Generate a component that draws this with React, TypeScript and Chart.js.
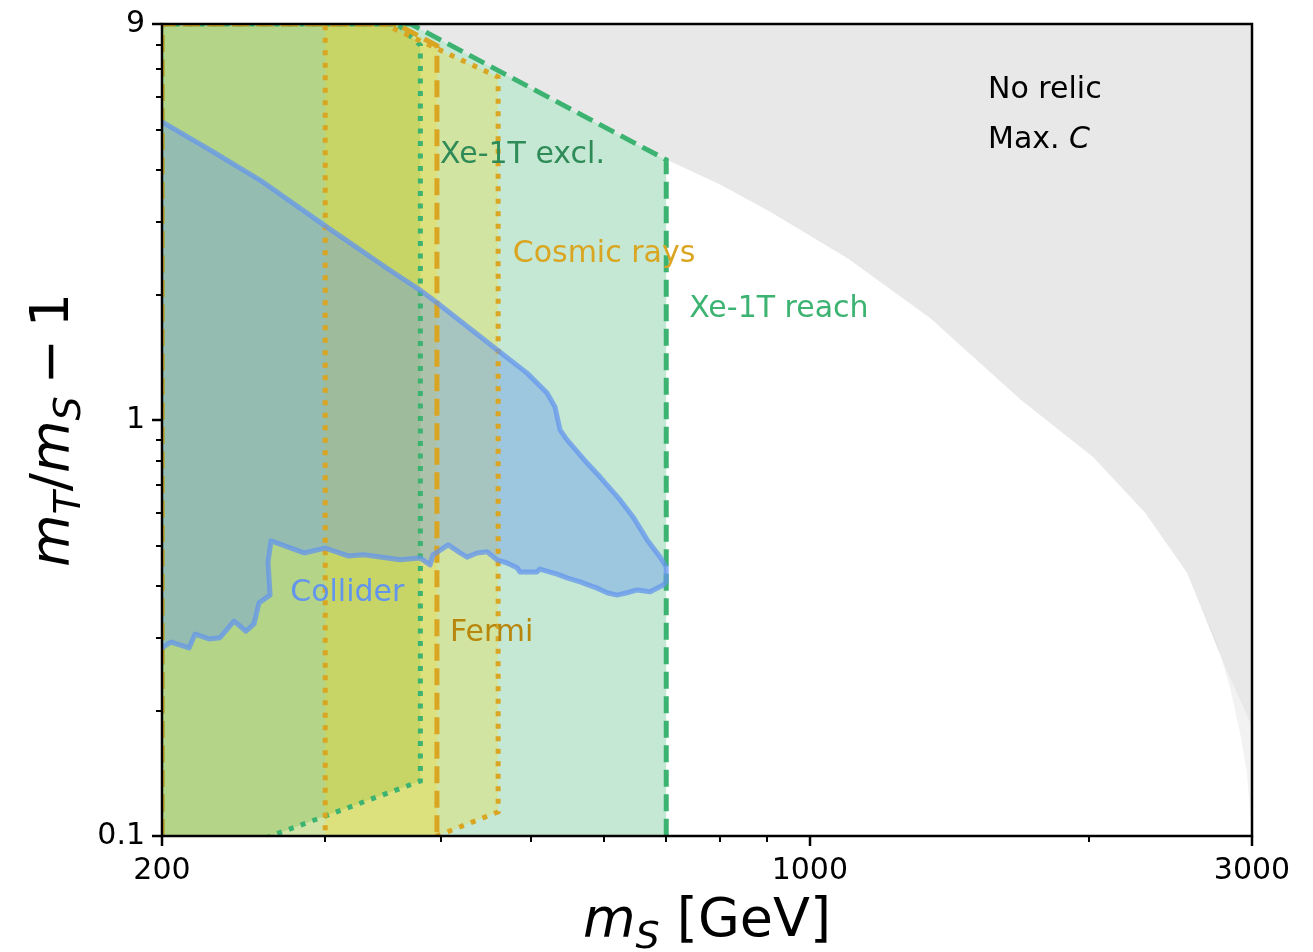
import React, { useEffect, useRef } from 'react';
import { Chart, registerables } from 'chart.js';

Chart.register(...registerables);

const FONT = '"DejaVu Sans", "Noto Sans", sans-serif';

// ---------- axes ----------
const xRange = [200, 3000];
const yRange = [0.1, 9];
const xTickValues = [200, 300, 400, 500, 600, 700, 800, 900, 1000, 2000, 3000];
const xTickLabels = [200, 1000, 3000];
const yTickValues = [0.1, 0.2, 0.3, 0.4, 0.5, 0.6, 0.7, 0.8, 0.9, 1, 2, 3, 4, 5, 6, 7, 8, 9];
const yTickLabels = [0.1, 1, 9];

// ---------- regions (m_S [GeV], m_T/m_S - 1) ----------
const noRelicX = [371, 700, 800, 906, 1100, 1348, 1690, 2021, 2300, 2553, 2806, 3000, 3000];
const noRelicY = [9, 4.25, 3.7, 3.18, 2.45, 1.765, 1.12, 0.817, 0.6, 0.43, 0.255, 0.183, 9];

const noRelicAltX = [2636, 2806, 3000, 3000, 2985, 2963, 2912, 2840, 2750];
const noRelicAltY = [0.365, 0.255, 0.183, 0.105, 0.1136, 0.142, 0.177, 0.228, 0.291];

const reachX = [200, 200, 371, 700, 700];
const reachY = [0.1, 9, 9, 4.24, 0.1];

const exclX = [200, 359, 380, 380, 200];
const exclY = [9, 9, 8.0, 0.1356, 0.0801];

const fermiX = [200, 200, 358, 396, 396];
const fermiY = [0.1, 9, 9, 7.98, 0.1];

const cosmicX = [300, 300, 347, 399, 461, 461, 300];
const cosmicY = [0.0783, 9, 9, 7.79, 6.71, 0.1143, 0.0783];

const colliderUpperX = [200, 225.3, 255.1, 300, 352.4, 379.7, 396.1, 459.7, 495.4, 520.6, 531, 537.7, 547.1, 575, 593.9, 624.1, 644.6, 667.6, 689.5, 700, 700];
const colliderUpperY = [5.23, 4.48, 3.79, 2.94, 2.30, 2.06, 1.92, 1.48, 1.30, 1.165, 1.078, 0.949, 0.898, 0.79, 0.731, 0.644, 0.586, 0.516, 0.469, 0.444, 0.409];
const colliderLowerX = [695, 672.6, 651.1, 635.1, 619.5, 604.4, 589.6, 565.1, 547.1, 533.7, 511.4, 507.6, 486.8, 483.2, 471.4, 459.7, 448.5, 437.6, 426.8, 419.5, 407.2, 392.2, 389.3, 379.7, 361.3, 330.3, 317.5, 300, 284.6, 262.2, 260.3, 261.6, 254.5, 251.4, 246.4, 239.2, 231, 224.8, 217.1, 213.9, 204.5, 200];
const colliderLowerY = [0.402, 0.387, 0.391, 0.385, 0.380, 0.385, 0.395, 0.409, 0.418, 0.427, 0.439, 0.432, 0.432, 0.442, 0.454, 0.462, 0.483, 0.480, 0.469, 0.480, 0.502, 0.475, 0.449, 0.467, 0.462, 0.475, 0.472, 0.493, 0.480, 0.513, 0.457, 0.380, 0.364, 0.324, 0.311, 0.329, 0.300, 0.298, 0.306, 0.2835, 0.293, 0.2835];

// ---------- annotations ----------
const annotationTexts = ['No relic', 'Xe-1T excl.', 'Cosmic rays', 'Xe-1T reach', 'Collider', 'Fermi'];
const annotationX = [1557, 399, 478, 741, 275, 409];
const annotationY = [6.25, 4.36, 2.52, 1.85, 0.384, 0.307];
const annotationColors = ['#000000', '#2e8b57', '#daa520', '#3cb371', '#6495ed', '#b8860b'];
const maxCPos = [1557, 4.74];

const pts = (xs: number[], ys: number[]) => xs.map((x, i) => ({ x, y: ys[i] }));

type Part = { t: string; font: string; dy?: number; gap?: number };

function measureParts(ctx: CanvasRenderingContext2D, parts: Part[]) {
  let w = 0;
  for (const p of parts) {
    ctx.font = p.font;
    w += (p.gap || 0) + ctx.measureText(p.t).width;
  }
  return w;
}
function drawParts(ctx: CanvasRenderingContext2D, parts: Part[], x: number, y: number) {
  let cx = x;
  for (const p of parts) {
    ctx.font = p.font;
    cx += p.gap || 0;
    ctx.fillText(p.t, cx, y + (p.dy || 0));
    cx += ctx.measureText(p.t).width;
  }
}

const overlayPlugin = {
  id: 'overlay',
  afterDatasetsDraw(chart: any) {
    const { ctx, chartArea: a } = chart;
    const xs = chart.scales.x;
    const ys = chart.scales.y;
    ctx.save();
    // annotations
    ctx.textBaseline = 'middle';
    ctx.textAlign = 'left';
    annotationTexts.forEach((t, i) => {
      ctx.fillStyle = annotationColors[i];
      ctx.font = `30px ${FONT}`;
      ctx.fillText(t, xs.getPixelForValue(annotationX[i]), ys.getPixelForValue(annotationY[i]));
    });
    ctx.fillStyle = '#000';
    drawParts(ctx, [
      { t: 'Max. ', font: `30px ${FONT}` },
      { t: 'C', font: `italic 30px ${FONT}` },
    ], xs.getPixelForValue(maxCPos[0]), ys.getPixelForValue(maxCPos[1]));

    // spines
    ctx.strokeStyle = '#000';
    ctx.lineWidth = 2.5;
    ctx.strokeRect(a.left, a.top, a.right - a.left, a.bottom - a.top);

    // tick marks
    for (const v of xTickValues) {
      const px = Math.round(xs.getPixelForValue(v));
      const major = xTickLabels.includes(v);
      ctx.lineWidth = major ? 2.5 : 2;
      ctx.beginPath();
      ctx.moveTo(px, a.bottom);
      ctx.lineTo(px, a.bottom + (major ? 10 : 6));
      ctx.stroke();
    }
    for (const v of yTickValues) {
      const py = Math.round(ys.getPixelForValue(v));
      const major = yTickLabels.includes(v);
      ctx.lineWidth = major ? 2.5 : 2;
      ctx.beginPath();
      ctx.moveTo(a.left, py);
      ctx.lineTo(a.left - (major ? 10 : 6), py);
      ctx.stroke();
    }

    // axis titles
    ctx.fillStyle = '#000';
    ctx.textBaseline = 'alphabetic';
    const S = 54;
    const xParts: Part[] = [
      { t: 'm', font: `italic ${S}px ${FONT}` },
      { t: 'S', font: `italic ${Math.round(S * 0.7)}px ${FONT}`, dy: 0.22 * S },
      { t: ' [GeV]', font: `${S}px ${FONT}` },
    ];
    const xw = measureParts(ctx, xParts);
    drawParts(ctx, xParts, (a.left + a.right) / 2 - xw / 2, 936);

    const yParts: Part[] = [
      { t: 'm', font: `italic ${S}px ${FONT}` },
      { t: 'T', font: `italic ${Math.round(S * 0.7)}px ${FONT}`, dy: 0.22 * S },
      { t: '/', font: `${S}px ${FONT}` },
      { t: 'm', font: `italic ${S}px ${FONT}` },
      { t: 'S', font: `italic ${Math.round(S * 0.7)}px ${FONT}`, dy: 0.22 * S },
      { t: '\u2212', font: `${S}px ${FONT}`, gap: 0.22 * S },
      { t: '1', font: `${S}px ${FONT}`, gap: 0.22 * S },
    ];
    const yw = measureParts(ctx, yParts);
    ctx.translate(68, (a.top + a.bottom) / 2);
    ctx.rotate(-Math.PI / 2);
    drawParts(ctx, yParts, -yw / 2, 0);
    ctx.restore();
  },
};

export default function App() {
  const ref = useRef<HTMLCanvasElement>(null);
  useEffect(() => {
    const canvas = ref.current;
    if (!canvas) return;
    Chart.defaults.font.family = FONT;
    Chart.defaults.color = '#000';
    const none = 'rgba(0,0,0,0)';
    const chart = new Chart(canvas, {
      type: 'line',
      data: {
        datasets: [
          {
            label: 'Collider',
            data: pts([...colliderUpperX, ...colliderLowerX], [...colliderUpperY, ...colliderLowerY]),
            fill: 'shape',
            backgroundColor: 'rgba(100,149,237,0.4)',
            borderColor: 'rgba(100,149,237,0.75)',
            borderWidth: 5,
            borderJoinStyle: 'round',
            order: 1,
          },
          {
            label: 'Cosmic rays',
            data: pts(cosmicX, cosmicY),
            fill: 'shape',
            backgroundColor: 'rgba(255,215,0,0.24)',
            borderColor: '#daa520',
            borderWidth: 5,
            borderDash: [5, 7.5],
            order: 2,
          },
          {
            label: 'Fermi',
            data: pts(fermiX, fermiY),
            fill: 'shape',
            backgroundColor: 'rgba(255,215,0,0.22)',
            borderColor: '#daa520',
            borderWidth: 5,
            borderDash: [17, 7.5],
            order: 3,
          },
          {
            label: 'Xe-1T excl.',
            data: pts(exclX, exclY),
            fill: 'shape',
            backgroundColor: 'rgba(0,128,0,0.18)',
            borderColor: '#3cb371',
            borderWidth: 5,
            borderDash: [5, 7.5],
            order: 4,
          },
          {
            label: 'Xe-1T reach',
            data: pts(reachX, reachY),
            fill: 'shape',
            backgroundColor: 'rgba(60,179,113,0.3)',
            borderColor: '#3cb371',
            borderWidth: 5,
            borderDash: [17, 7.5],
            order: 5,
          },
          {
            label: 'No relic (alt)',
            data: pts(noRelicAltX, noRelicAltY),
            fill: 'shape',
            backgroundColor: 'rgba(0,0,0,0.05)',
            borderColor: none,
            borderWidth: 0,
            order: 6,
          },
          {
            label: 'No relic',
            data: pts(noRelicX, noRelicY),
            fill: 'shape',
            backgroundColor: 'rgba(0,0,0,0.09)',
            borderColor: none,
            borderWidth: 0,
            order: 7,
          },
        ],
      },
      options: {
        animation: false,
        responsive: true,
        maintainAspectRatio: false,
        layout: { padding: { top: 24, right: 61, left: 0, bottom: 0 } },
        elements: { point: { radius: 0, hoverRadius: 0 }, line: { tension: 0 } },
        plugins: {
          legend: { display: false },
          tooltip: { enabled: false },
          filler: { drawTime: 'beforeDatasetsDraw' },
        },
        scales: {
          x: {
            type: 'logarithmic',
            min: xRange[0],
            max: xRange[1],
            bounds: 'data',
            grid: { display: false, drawTicks: false },
            border: { display: false },
            afterBuildTicks: (s: any) => {
              s.ticks = xTickValues.map((v) => ({ value: v }));
            },
            afterFit: (s: any) => {
              s.height = 116;
              s.paddingLeft = 0;
              s.paddingRight = 0;
            },
            ticks: {
              autoSkip: false,
              maxRotation: 0,
              minRotation: 0,
              padding: 17,
              font: { size: 30, family: FONT },
              color: '#000',
              callback: (v: any) => (xTickLabels.includes(Number(v)) ? String(v) : ''),
            },
          },
          y: {
            type: 'logarithmic',
            min: yRange[0],
            max: yRange[1],
            bounds: 'data',
            grid: { display: false, drawTicks: false },
            border: { display: false },
            afterBuildTicks: (s: any) => {
              s.ticks = yTickValues.map((v) => ({ value: v }));
            },
            afterFit: (s: any) => {
              s.width = 162;
              s.paddingTop = 0;
              s.paddingBottom = 0;
            },
            ticks: {
              autoSkip: false,
              padding: 17,
              font: { size: 30, family: FONT },
              color: '#000',
              callback: (v: any) => (yTickLabels.includes(Number(v)) ? String(v) : ''),
            },
          },
        },
      } as any,
      plugins: [overlayPlugin],
    });
    return () => chart.destroy();
  }, []);
  return (
    <div style={{ position: 'absolute', left: 0, top: 0, width: 1313, height: 952 }}>
      <canvas ref={ref} />
    </div>
  );
}
